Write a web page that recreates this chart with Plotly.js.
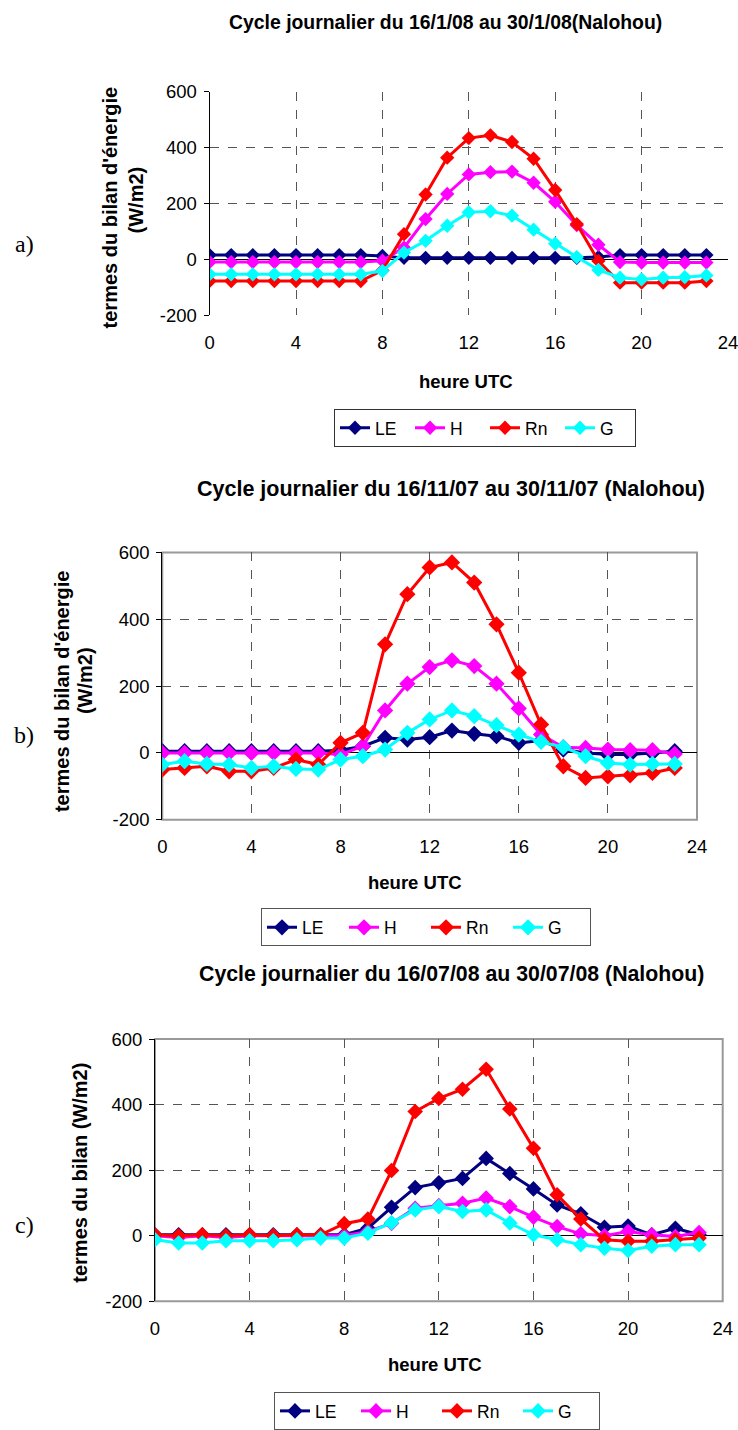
<!DOCTYPE html>
<html>
<head>
<meta charset="utf-8">
<script src="https://cdn.plot.ly/plotly-3.0.1.min.js"></script>
<style>html,body{margin:0;padding:0;background:#fff;}#chart{width:738px;height:1430px;}</style>
</head>
<body>
<div id="chart"></div>
<script>
// ---- data ----
const hours = [0,1,2,3,4,5,6,7,8,9,10,11,12,13,14,15,16,17,18,19,20,21,22,23];
const seriesNames = ["LE","H","Rn","G"];
const xTicks = [0,4,8,12,16,20,24];
const yTicks = [-200,0,200,400,600];
const yTickText = ["-200","0","200","400","600"];

// a) 16/1/08 - 30/1/08
const LE_a = [15,15,15,15,15,15,15,15,12,5,5,5,5,5,5,5,5,5,8,15,15,15,15,15];
const H_a  = [-10,-10,-10,-10,-10,-10,-10,-10,-5,42,144,234,304,312,314,274,206,122,52,-10,-12,-12,-12,-12];
const Rn_a = [-78,-78,-78,-78,-78,-78,-78,-78,-40,90,232,364,434,444,420,360,248,126,-6,-84,-84,-84,-84,-78];
const G_a  = [-54,-54,-54,-54,-54,-54,-54,-54,-42,24,66,120,168,172,156,106,56,8,-38,-66,-72,-66,-64,-58];

// b) 16/11/07 - 30/11/07
const LE_b = [5,5,5,5,5,5,5,5,8,20,45,40,47,67,57,50,30,37,10,0,-5,-5,0,5];
const H_b  = [0,0,0,0,0,0,0,0,-5,20,127,207,257,277,260,207,133,55,17,15,10,8,8,-3];
const Rn_b = [-50,-45,-40,-55,-55,-45,-20,-35,30,60,325,475,555,570,510,385,240,85,-40,-75,-70,-67,-60,-45];
const G_b  = [-35,-25,-33,-35,-45,-40,-48,-50,-20,-10,10,60,100,127,110,83,55,33,17,-10,-30,-35,-33,-33];

// c) 16/07/08 - 30/07/08
const LE_c = [3,3,3,3,3,3,3,3,3,23,87,147,162,175,236,190,143,94,67,26,30,3,23,3];
const H_c  = [0,-5,0,-5,0,0,0,0,0,13,38,84,92,99,115,89,57,28,6,0,13,3,-2,10];
const Rn_c = [3,0,3,0,3,0,3,3,37,51,199,379,419,447,508,387,267,125,51,-12,-17,-17,-12,-7];
const G_c  = [-12,-22,-22,-15,-15,-15,-12,-7,-7,8,40,79,89,74,79,39,3,-12,-27,-38,-45,-32,-27,-27];

const titles = [
  "Cycle journalier du 16/1/08 au 30/1/08(Nalohou)",
  "Cycle journalier du 16/11/07 au 30/11/07 (Nalohou)",
  "Cycle journalier du 16/07/08 au 30/07/08 (Nalohou)"
];
const xTitle = "heure UTC";
const yTitlesA = ["termes du bilan d'énergie", "(W/m2)"];
const yTitleC = "termes du bilan (W/m2)";
const panelLabels = ["a)","b)","c)"];

// ---- styling ----
const W = 738, H = 1430;
const px = X => X / W;
const py = Y => 1 - Y / H;
const colors = ["#000080","#FF00FF","#FF0000","#00FFFF"];
const FONT = "Liberation Sans, Arial, sans-serif";
const SERIF = "Liberation Serif, DejaVu Serif, serif";

const panels = [
  {data:[LE_a,H_a,Rn_a,G_a], xa:"x",  ya:"y",  leg:"legend",  msize:11},
  {data:[LE_b,H_b,Rn_b,G_b], xa:"x2", ya:"y2", leg:"legend2", msize:12.5},
  {data:[LE_c,H_c,Rn_c,G_c], xa:"x3", ya:"y3", leg:"legend3", msize:12}
];

const traces = [];
panels.forEach(p => {
  p.data.forEach((vals, i) => {
    traces.push({
      type:"scatter", mode:"lines+markers",
      x: hours, y: vals, name: seriesNames[i],
      xaxis: p.xa, yaxis: p.ya, legend: p.leg,
      line:{color:colors[i], width:3},
      marker:{symbol:"diamond", size:p.msize, color:colors[i]},
      hoverinfo:"skip"
    });
  });
});

function xaxisDef(X0, X1){
  return {
    domain:[px(X0), px(X1)], range:[0,24], tickvals:xTicks,
    showgrid:true, gridcolor:"#555", griddash:"dash", gridwidth:1,
    zeroline:false, showline:false, ticks:"",
    tickfont:{family:FONT, size:18.5, color:"#000"},
    ticklabelstandoff:14, ticklabeloverflow:"allow", fixedrange:true
  };
}
function yaxisDef(Ytop, Ybot){
  return {
    domain:[py(Ybot), py(Ytop)], range:[-200,600], tickvals:yTicks, ticktext:yTickText,
    showgrid:true, gridcolor:"#555", griddash:"dash", gridwidth:1,
    zeroline:true, zerolinecolor:"#000", zerolinewidth:1,
    showline:true, linecolor:"#000", linewidth:1,
    ticks:"outside", ticklen:5, tickcolor:"#000",
    tickfont:{family:FONT, size:18.5, color:"#000"},
    ticklabelstandoff:3, ticklabeloverflow:"allow", fixedrange:true
  };
}
function legendDef(Xc, Ytop, ew, bc){
  return {x:px(Xc), y:py(Ytop), xanchor:"center", yanchor:"top", orientation:"h",
          bordercolor:bc, borderwidth:1, font:{family:FONT,size:17.5,color:"#000"},
          entrywidth:ew, bgcolor:"#fff"};
}

const layout = {
  width:W, height:H, margin:{l:0,r:0,t:0,b:0},
  paper_bgcolor:"#fff", plot_bgcolor:"#fff",
  font:{family:FONT, color:"#000"},
  xaxis: Object.assign(xaxisDef(209.6,728), {anchor:"y"}),
  yaxis: Object.assign(yaxisDef(92,316), {anchor:"x"}),
  xaxis2: Object.assign(xaxisDef(162.3,697), {anchor:"y2"}),
  yaxis2: Object.assign(yaxisDef(554,822), {anchor:"x2"}),
  xaxis3: Object.assign(xaxisDef(155,722.7), {anchor:"y3"}),
  yaxis3: Object.assign(yaxisDef(1042,1305), {anchor:"x3"}),
  legend:  legendDef(485, 410, 30, "#333"),
  legend2: legendDef(426, 911, 37, "#555"),
  legend3: legendDef(437, 1396, 36, "#555"),
  shapes:[
    {type:"rect", xref:"x2 domain", yref:"y2 domain", x0:0, x1:1, y0:0, y1:1, line:{color:"#999", width:2}, layer:"below"},
    {type:"rect", xref:"x3 domain", yref:"y3 domain", x0:0, x1:1, y0:0, y1:1, line:{color:"#999", width:2}, layer:"below"}
  ],
  annotations:[]
};

const ann = (X, Y, text, opts) => Object.assign({
  xref:"paper", yref:"paper", x:px(X), y:py(Y), text:text, showarrow:false,
  xanchor:"center", yanchor:"middle", font:{family:FONT, size:18.5, color:"#000"}
}, opts||{});

// titles
layout.annotations.push(ann(446, 22, "<b>"+titles[0]+"</b>", {font:{family:FONT,size:19.4,color:"#000"}}));
layout.annotations.push(ann(451, 490, "<b>"+titles[1]+"</b>", {font:{family:FONT,size:21.5,color:"#000"}}));
layout.annotations.push(ann(451, 977, "<b>"+titles[2]+"</b>", {font:{family:FONT,size:21.3,color:"#000"}}));
// x titles
layout.annotations.push(ann(466, 383, "<b>"+xTitle+"</b>"));
layout.annotations.push(ann(415, 885, "<b>"+xTitle+"</b>"));
layout.annotations.push(ann(435, 1368, "<b>"+xTitle+"</b>"));
// y titles
const yf = {family:FONT, size:20, color:"#000"};
layout.annotations.push(ann(110, 209, "<b>"+yTitlesA[0]+"</b>", {textangle:-90, font:yf}));
layout.annotations.push(ann(136, 201, "<b>"+yTitlesA[1]+"</b>", {textangle:-90, font:yf}));
layout.annotations.push(ann(62, 694, "<b>"+yTitlesA[0]+"</b>", {textangle:-90, font:yf}));
layout.annotations.push(ann(85, 683, "<b>"+yTitlesA[1]+"</b>", {textangle:-90, font:yf}));
layout.annotations.push(ann(80, 1176, "<b>"+yTitleC+"</b>", {textangle:-90, font:yf}));
// panel labels
[245, 737, 1228].forEach((Y, i) => {
  layout.annotations.push(ann(24, Y, panelLabels[i], {font:{family:SERIF, size:24, color:"#000"}}));
});

Plotly.newPlot("chart", traces, layout, {staticPlot:true, displayModeBar:false});
</script>
</body>
</html>
